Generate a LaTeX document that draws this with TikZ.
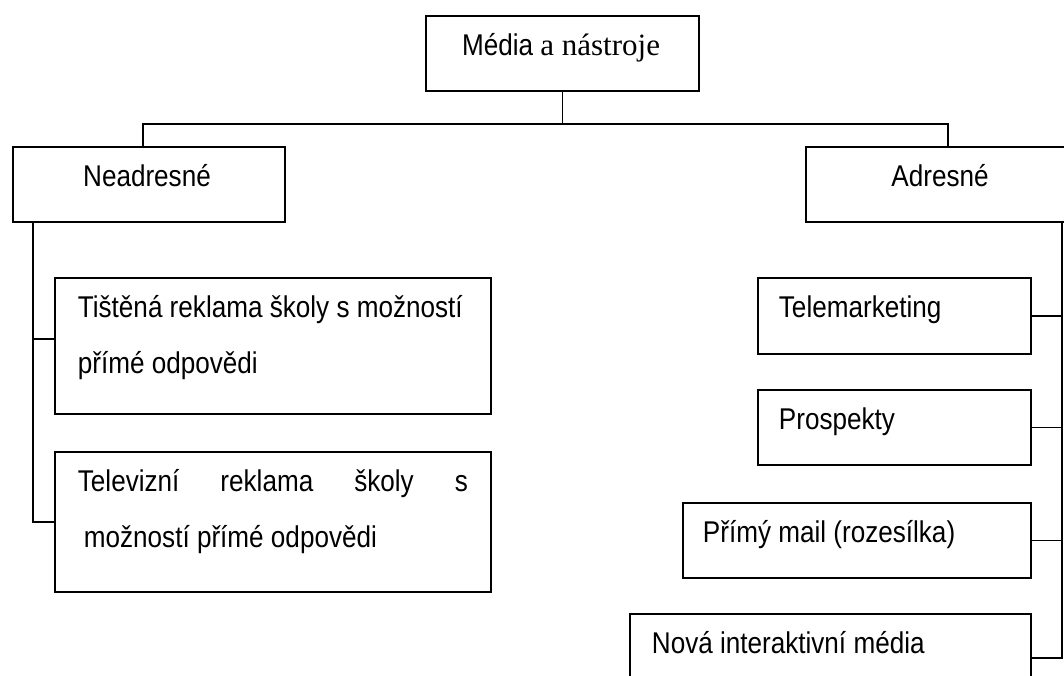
\documentclass[tikz,border=0pt]{standalone}
\usepackage{fontspec}
\setmainfont{Liberation Sans}
\newfontfamily\arialf[FakeStretch=0.87]{Liberation Sans}
\newfontfamily\timesf{Liberation Serif}
\begin{document}
\begin{tikzpicture}[x=1pt,y=-1pt,line width=1.8pt,
  box/.style={draw,rectangle,line width=1.8pt,inner sep=0pt,anchor=north west},
  lbl/.style={inner sep=0pt,anchor=base west,font=\arialf\fontsize{30}{30}\selectfont},
  clbl/.style={lbl,anchor=base}]
\useasboundingbox (0,0) rectangle (1064,675);
\clip (0,0) rectangle (1064,675);
% boxes
\node[box,minimum width=273pt,minimum height=75pt] (top) at (425,15) {};
\node[box,minimum width=272pt,minimum height=75pt] (neadr) at (12,146) {};
\node[box,minimum width=300pt,minimum height=75pt] (adr) at (805,146) {};
\node[box,minimum width=436pt,minimum height=136pt] (tisk) at (54,277) {};
\node[box,minimum width=436pt,minimum height=140pt] (tv) at (54,451) {};
\node[box,minimum width=273pt,minimum height=76pt] (tele) at (757,277) {};
\node[box,minimum width=273pt,minimum height=75pt] (prosp) at (757,389) {};
\node[box,minimum width=348pt,minimum height=75pt] (primy) at (682,502) {};
\node[box,minimum width=401pt,minimum height=88pt] (nova) at (629,613) {};
% texts
\node[clbl] (ttop) at (561,55) {{\arialf Média} {\timesf\fontsize{31}{31}\selectfont a nástroje}};
\node[clbl] (tneadr) at (147,186) {Neadresné};
\node[clbl] (tadr) at (940,186) {Adresné};
\node[lbl] (ttisk1) at (77,317) {Tištěná reklama školy s možností};
\node[lbl] (ttisk2) at (77,373) {přímé odpovědi};
\node[lbl] (ttv1) at (77,491) {\makebox[390pt][s]{Televizní reklama školy s}};
\node[lbl] (ttv2) at (83,547) {možností přímé odpovědi};
\node[lbl] (ttele) at (778,317) {Telemarketing};
\node[lbl] (tprosp) at (778,429) {Prospekty};
\node[lbl] (tprimy) at (702,542) {Přímý mail (rozesílka)};
\node[lbl] (tnova) at (651,653) {Nová interaktivní média};
% connectors
\coordinate (busL) at (143,124);
\coordinate (busR) at (948,124);
\draw (top.south) -- (top.south |- busL);
\draw (busL |- neadr.north) -- (busL) -- (busR) -- (busR |- adr.north);
\coordinate (lt) at (33,221);
\draw (lt) |- (tv.west);
\draw (lt) |- ([yshift=7pt]tisk.west);
\coordinate (rt) at (1062,221);
\draw (rt) |- (nova.east);
\draw (rt) |- (primy.east);
\draw (rt) |- (prosp.east);
\draw (rt) |- (tele.east);
\end{tikzpicture}
\end{document}
